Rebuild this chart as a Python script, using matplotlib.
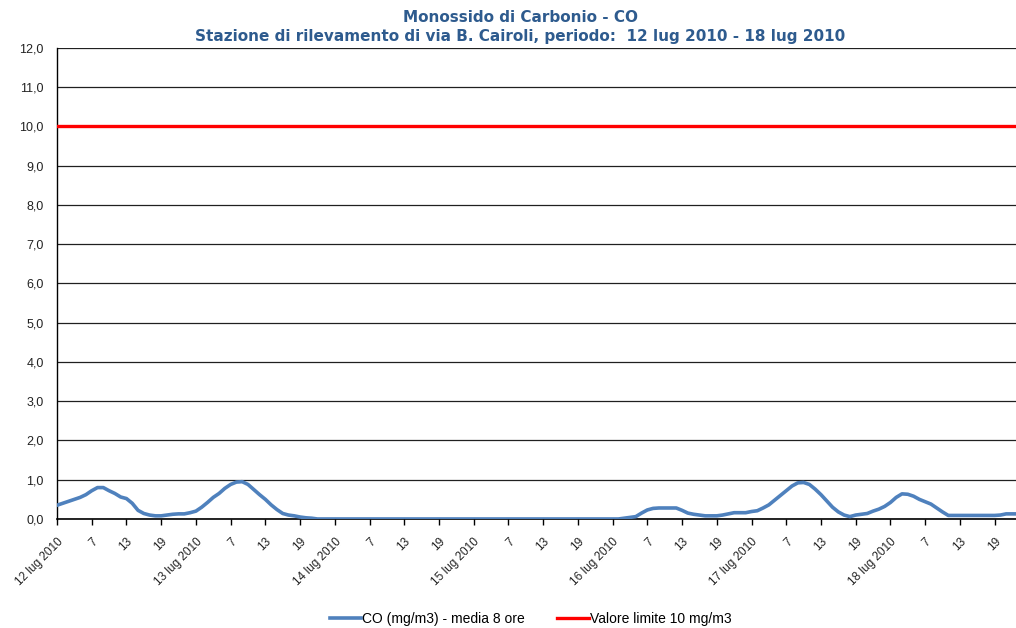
import numpy as np
import matplotlib.pyplot as plt

# CO hourly 8-hour moving average, 12-18 lug 2010 (mg/m3)
days = ["12 lug 2010", "13 lug 2010", "14 lug 2010", "15 lug 2010",
        "16 lug 2010", "17 lug 2010", "18 lug 2010"]
hour_labels = ["7", "13", "19"]

co_day1 = [0.35, 0.40, 0.45, 0.50, 0.55, 0.62, 0.72, 0.80, 0.80, 0.72, 0.65, 0.56,
           0.52, 0.40, 0.22, 0.14, 0.10, 0.08, 0.08, 0.10, 0.12, 0.13, 0.13, 0.16]
co_day2 = [0.20, 0.30, 0.42, 0.55, 0.65, 0.78, 0.88, 0.94, 0.95, 0.88, 0.75, 0.62,
           0.50, 0.36, 0.24, 0.14, 0.10, 0.08, 0.05, 0.03, 0.02, 0.0, 0.0, 0.0]
co_day3 = [0.0] * 24
co_day4 = [0.0] * 24
co_day5 = [0.0, 0.0, 0.02, 0.04, 0.06, 0.15, 0.23, 0.27, 0.28, 0.28, 0.28, 0.28,
           0.22, 0.15, 0.12, 0.10, 0.08, 0.08, 0.08, 0.10, 0.13, 0.16, 0.16, 0.16]
co_day6 = [0.19, 0.21, 0.28, 0.36, 0.48, 0.60, 0.72, 0.84, 0.92, 0.93, 0.88, 0.76,
           0.62, 0.46, 0.30, 0.18, 0.10, 0.06, 0.10, 0.12, 0.14, 0.20, 0.25, 0.32]
co_day7 = [0.42, 0.55, 0.64, 0.63, 0.58, 0.50, 0.44, 0.38, 0.28, 0.18, 0.09, 0.09,
           0.09, 0.09, 0.09, 0.09, 0.09, 0.09, 0.09, 0.10, 0.13, 0.13, 0.13, 0.13]
limit_value = 10.0

co = co_day1 + co_day2 + co_day3 + co_day4 + co_day5 + co_day6 + co_day7
x = np.arange(len(co))

# tick labels: day name at hour 1, then 7, 13, 19
tick_labels = []
for d in days:
    tick_labels += [d] + hour_labels
tick_pos = np.arange(len(tick_labels)) * 6

fig = plt.figure(figsize=(10.16, 6.28), dpi=100)
ax = fig.add_axes([0.0561, 0.1736, 0.9439, 0.75])

ax.plot(x, co, color="#4F81BD", lw=2.6, label="CO (mg/m3) - media 8 ore", zorder=3)
ax.plot([x[0], x[-1]], [limit_value, limit_value], color="#FF0000", lw=2.4,
        label="Valore limite 10 mg/m3", zorder=3)

ax.set_ylim(0, 12)
ax.set_xlim(0, 165.7)
ax.set_yticks(np.arange(0, 13, 1))
ax.set_yticklabels([f"{v:.1f}".replace(".", ",") for v in range(13)],
                   fontsize=9, family="Liberation Sans", color="#222222")
ax.yaxis.grid(True, color="#202020", lw=0.9)
ax.set_axisbelow(True)
ax.tick_params(axis="y", length=0, pad=9.5)

ax.set_xticks(tick_pos)
ax.set_xticklabels(tick_labels, rotation=45, ha="right", rotation_mode="anchor",
                   fontsize=8.5, family="Liberation Sans", color="#222222")
ax.tick_params(axis="x", length=4, width=1, direction="out", pad=8)

for s in ["top", "right"]:
    ax.spines[s].set_visible(False)
ax.spines["left"].set_color("black")
ax.spines["bottom"].set_color("black")
ax.spines["left"].set_linewidth(1)
ax.spines["bottom"].set_linewidth(1.2)

fig.text(0.512, 0.984, "Monossido di Carbonio - CO\nStazione di rilevamento di via B. Cairoli, periodo:  12 lug 2010 - 18 lug 2010",
         ha="center", va="top", fontsize=11, fontweight="bold", color="#2E5B8E",
         family="DejaVu Sans", linespacing=1.3)

fig.legend(loc="lower center", bbox_to_anchor=(0.522, -0.016), ncol=2, frameon=False,
           prop={"family": "Liberation Sans", "size": 10}, handlelength=2.3,
           handletextpad=0.05, columnspacing=2.3)

fig.savefig("out.png", dpi=100)
